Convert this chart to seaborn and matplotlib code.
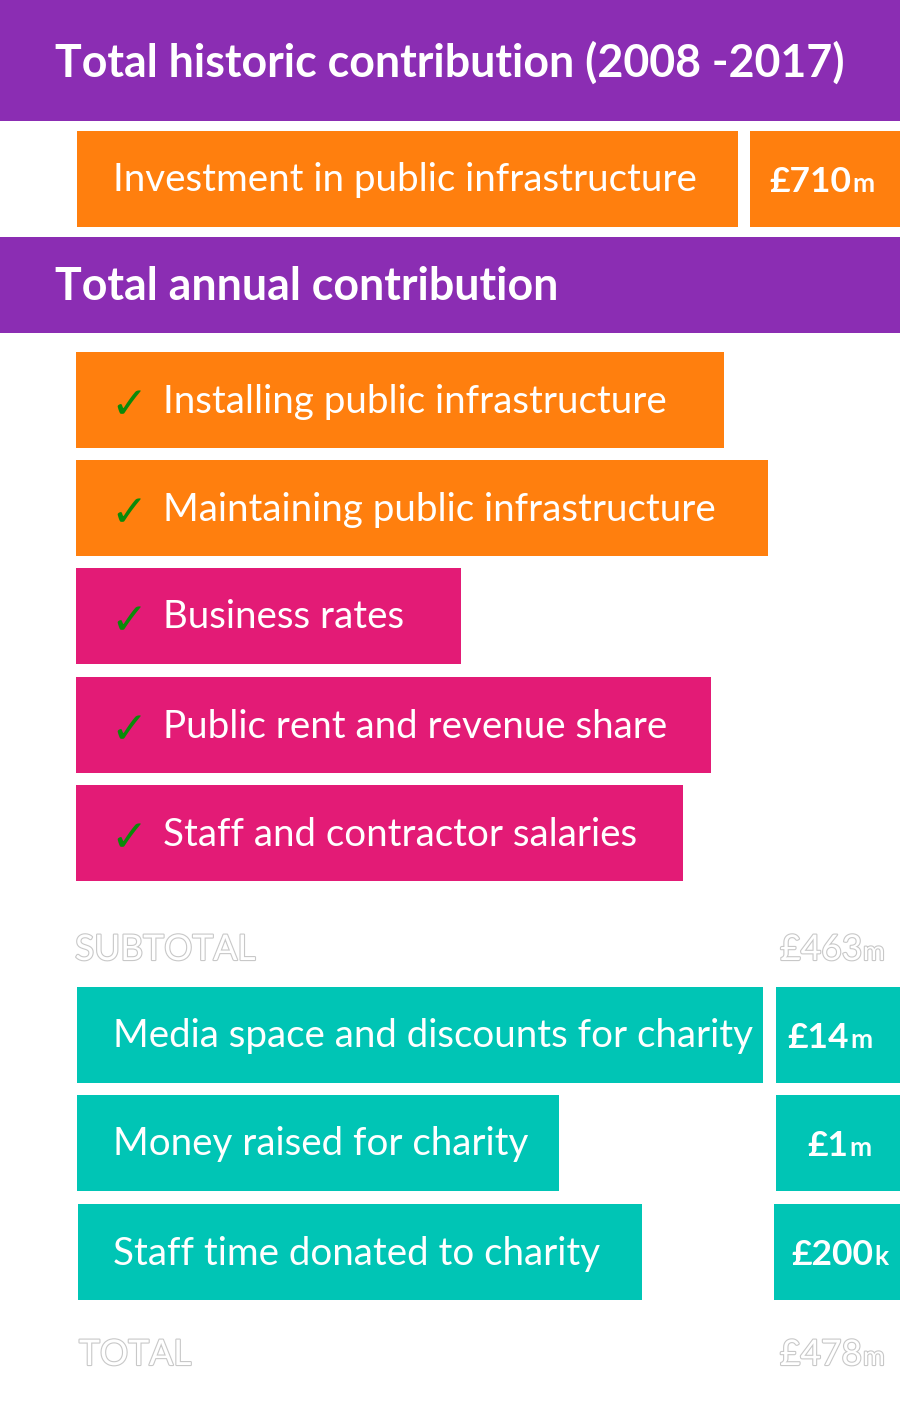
import matplotlib
matplotlib.use("Agg")
import matplotlib.pyplot as plt
import matplotlib.patheffects as pe
import seaborn as sns
import pandas as pd

# ---------------- data ----------------
headers = ["Total historic contribution (2008 -2017)", "Total annual contribution"]
categories = [
    "Investment in public infrastructure",
    "Installing public infrastructure",
    "Maintaining public infrastructure",
    "Business rates",
    "Public rent and revenue share",
    "Staff and contractor salaries",
    "Media space and discounts for charity",
    "Money raised for charity",
    "Staff time donated to charity",
]
groups = ["historic", "infra", "infra", "fiscal", "fiscal", "fiscal", "charity", "charity", "charity"]
checked = [False, True, True, True, True, True, False, False, False]
bar_lengths = [661, 648, 692, 385, 635, 607, 686, 482, 564]
value_numbers = ["£710", None, None, None, None, None, "£14", "£1", "£200"]
value_units = ["m", None, None, None, None, None, "m", "m", "k"]
subtotal_label, subtotal_number, subtotal_unit = "SUBTOTAL", "£463", "m"
total_label, total_number, total_unit = "TOTAL", "£478", "m"

df = pd.DataFrame({"category": categories, "group": groups, "length": bar_lengths,
                   "checked": checked, "num": value_numbers, "unit": value_units})

# ---------------- style ----------------
sns.set_theme(style="white")
plt.rcParams["font.family"] = ["Lato", "DejaVu Sans"]
palette = {"historic": "#FF7F0E", "infra": "#FF7F0E", "fiscal": "#E31B76", "charity": "#00C5B5"}
purple = "#8B2DB3"
check_green = "#0A8A0A"

# layout (pixel space)
row_y = [179, 400, 508, 616, 725, 833, 1035, 1143, 1252]
bar_left = [77, 76, 76, 76, 76, 76, 77, 77, 78]
value_box_left = [750, None, None, None, None, None, 776, 776, 774]
value_anchor = [851, None, None, None, None, None, 849, 848, 873]
header_y = [60.5, 285]
header_h = [121, 96]
bar_h = 96
subtotal_y, total_y = 946, 1351

fig = plt.figure(figsize=(9, 14.06), dpi=100)
ax = fig.add_axes([0, 0, 1, 1])
ax.set_xlim(0, 900)
ax.set_ylim(1406, 0)
ax.axis("off")

# headers
for txt, y, h in zip(headers, header_y, header_h):
    ax.barh(y, 900, left=0, height=h, color=purple, linewidth=0)
    ax.text(55, y - 2, txt, color="white", fontsize=32.2, fontweight="bold",
            va="center_baseline", ha="left")

# bars
for i, r in df.iterrows():
    c = palette[r["group"]]
    ax.barh(row_y[i], r["length"], left=bar_left[i], height=bar_h, color=c, linewidth=0)
    if r["checked"]:
        ax.text(110, row_y[i] + 1, "✓", color=check_green, fontsize=32,
                family=["DejaVu Sans"], va="center_baseline", ha="left")
        tx = 163
    else:
        tx = 113
    ax.text(tx, row_y[i] - 2, r["category"], color="white", fontsize=27.7,
            va="center_baseline", ha="left")
    if r["num"] is not None:
        bl = value_box_left[i]
        ax.barh(row_y[i], 900 - bl, left=bl, height=bar_h, color=c, linewidth=0)
        ax.text(value_anchor[i], row_y[i] + 13, r["num"], color="white", fontsize=25.5,
                fontweight="bold", va="baseline", ha="right")
        ax.text(value_anchor[i] + 1, row_y[i] + 13, r["unit"], color="white", fontsize=19,
                fontweight="bold", va="baseline", ha="left")

outline = [pe.withStroke(linewidth=1.6, foreground="#c8c8c8")]
for lab, num, unit, y, lx in [(subtotal_label, subtotal_number, subtotal_unit, subtotal_y, 75),
                              (total_label, total_number, total_unit, total_y, 79)]:
    ax.text(lx, y + 14, lab, color="white", fontsize=25.5, va="baseline", ha="left",
            path_effects=outline)
    ax.text(862, y + 14, num, color="white", fontsize=25.5, va="baseline", ha="right",
            path_effects=outline)
    ax.text(863, y + 14, unit, color="white", fontsize=19, va="baseline", ha="left",
            path_effects=outline)

fig.savefig("out.png", dpi=100, facecolor="white")
